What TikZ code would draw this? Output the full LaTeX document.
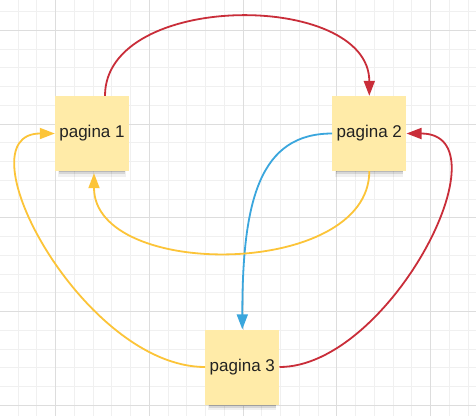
\documentclass[tikz,border=0pt]{standalone}
\usepackage{fontspec}
\setmainfont{Liberation Sans}
\usetikzlibrary{arrows.meta,shadows}
\definecolor{gridminor}{HTML}{F0F0F0}
\definecolor{gridmajor}{HTML}{DDDDDD}
\definecolor{stickyfill}{HTML}{FFEBA8}
\definecolor{lred}{HTML}{C92D39}
\definecolor{lyellow}{HTML}{FCC438}
\definecolor{lblue}{HTML}{3AA6DD}
\definecolor{txt}{HTML}{222222}
\tikzset{
  sticky/.style={rectangle, fill=stickyfill, minimum width=74pt, minimum height=75pt,
    inner sep=0pt, text=txt, font=\fontsize{17}{20}\selectfont,
    general shadow={fill=black, opacity=0.06, shadow scale=0.92, shadow yshift=-9.5pt},
    general shadow={fill=black, opacity=0.10, shadow scale=0.9, shadow yshift=-7.5pt},
    general shadow={fill=black, opacity=0.14, shadow scale=0.9, shadow yshift=-5.5pt}},
  conn/.style={line width=1.8pt, -{Triangle[length=15pt,width=11pt]}},
  redc/.style={conn, draw=lred, -{Triangle[length=15pt,width=11pt,fill=lred]}},
  yelc/.style={conn, draw=lyellow},
  bluc/.style={conn, draw=lblue},
}
\begin{document}
\begin{tikzpicture}[x=1pt,y=-1pt]
\useasboundingbox (0,0) rectangle (476,416);
\fill[white] (0,0) rectangle (476,416);
% grid
\foreach \k in {0,...,24} {\draw[gridminor, line width=1pt] ({18.2+18.75*\k},0) -- ({18.2+18.75*\k},416);}
\foreach \k in {0,...,21} {\draw[gridminor, line width=1pt] (0,{11.5+18.75*\k}) -- (476,{11.5+18.75*\k});}
\foreach \k in {0,...,4} {\draw[gridmajor, line width=1pt] ({55.7+93.75*\k},0) -- ({55.7+93.75*\k},416);}
\foreach \k in {0,...,4} {\draw[gridmajor, line width=1pt] (0,{30.25+93.75*\k}) -- (476,{30.25+93.75*\k});}
% nodes
\node[sticky] (p1) at (92,133.5) {pagina 1};
\node[sticky] (p2) at (369.3,133.5) {pagina 2};
\node[sticky] (p3) at (242.3,367) {pagina 3};
% connectors
\draw[redc] ([xshift=13pt]p1.north) .. controls +(0,-105) and +(0,-105) .. (p2.north);
\draw[bluc] (p2.west) .. controls +(-72,0) and +(0,-130) .. (p3.north);
\draw[yelc] (p2.south) .. controls +(0,107) and +(0,107) .. ([xshift=2pt,yshift=-2pt]p1.south);
\draw[yelc] (p3.west) .. controls +(-122,0) and +(-96,0) .. (p1.west);
\draw[redc] (p3.east) .. controls +(110,0) and +(103,0) .. (p2.east);
\end{tikzpicture}
\end{document}
